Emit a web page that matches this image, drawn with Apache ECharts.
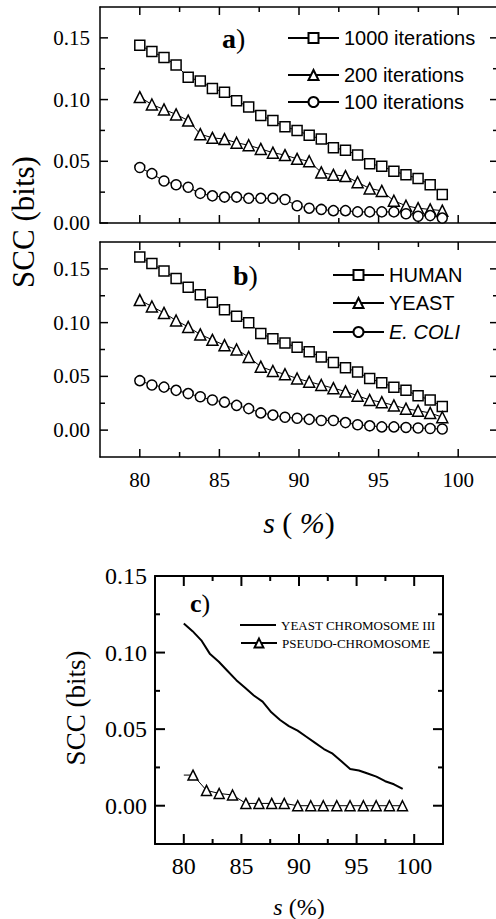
<!DOCTYPE html>
<html>
<head>
<meta charset="utf-8">
<script src="https://cdn.jsdelivr.net/npm/echarts@6/dist/echarts.min.js"></script>
<style>
  html, body { margin: 0; padding: 0; background: #fff; }
  #chart { width: 496px; height: 919px; }
</style>
</head>
<body>
<div id="chart"></div>
<script>
// s (%) positions shared by panels a, b and the line of panel c
const sValues = [80, 80.76, 81.52, 82.28, 83.04, 83.8, 84.56, 85.32, 86.08, 86.84, 87.6, 88.36, 89.12,
  89.88, 90.64, 91.4, 92.16, 92.92, 93.68, 94.44, 95.2, 95.96, 96.72, 97.48, 98.24, 99]

// panel a
const iter1000 = [0.144, 0.139, 0.134, 0.128, 0.118, 0.115, 0.109, 0.106, 0.099, 0.094, 0.087, 0.083, 0.078,
  0.075, 0.071, 0.068, 0.061, 0.059, 0.055, 0.048, 0.046, 0.042, 0.039, 0.036, 0.031, 0.023]
const iter200 = [0.102, 0.096, 0.092, 0.088, 0.083, 0.072, 0.069, 0.068, 0.065, 0.063, 0.060, 0.057, 0.055,
  0.052, 0.050, 0.041, 0.039, 0.038, 0.033, 0.028, 0.026, 0.018, 0.014, 0.012, 0.011, 0.010]
const iter100 = [0.045, 0.040, 0.034, 0.031, 0.029, 0.024, 0.022, 0.021, 0.021, 0.020, 0.020, 0.020, 0.019,
  0.014, 0.012, 0.011, 0.010, 0.010, 0.009, 0.009, 0.009, 0.009, 0.0075, 0.0055, 0.006, 0.004]

// panel b
const human = [0.161, 0.155, 0.148, 0.141, 0.133, 0.126, 0.119, 0.112, 0.106, 0.100, 0.090, 0.085, 0.081,
  0.077, 0.073, 0.068, 0.063, 0.058, 0.054, 0.048, 0.044, 0.040, 0.037, 0.032, 0.028, 0.022]
const yeast = [0.121, 0.115, 0.109, 0.102, 0.096, 0.089, 0.084, 0.079, 0.075, 0.068, 0.059, 0.055, 0.052,
  0.048, 0.045, 0.042, 0.039, 0.036, 0.032, 0.028, 0.026, 0.023, 0.020, 0.018, 0.016, 0.012]
const ecoli = [0.046, 0.042, 0.040, 0.037, 0.034, 0.031, 0.028, 0.026, 0.023, 0.020, 0.016, 0.014, 0.012,
  0.011, 0.010, 0.009, 0.009, 0.007, 0.005, 0.004, 0.003, 0.003, 0.0025, 0.002, 0.0015, 0.001]

// panel c
const yeastChr3 = [0.119, 0.114, 0.108, 0.099, 0.094, 0.088, 0.082, 0.077, 0.072, 0.068, 0.061, 0.056, 0.052,
  0.049, 0.045, 0.041, 0.037, 0.034, 0.029, 0.024, 0.023, 0.021, 0.019, 0.016, 0.014, 0.011]
const pseudoS = [80, 80.8, 81.97, 83.07, 84.23, 85.39, 86.52, 87.63, 88.72, 89.89, 91.02, 92.11, 93.28,
  94.43, 95.59, 96.7, 97.85, 98.98]
const pseudoVals = [0.020, 0.020, 0.010, 0.008, 0.007, 0.0015, 0.0015, 0.0015, 0.0015, 0, 0, 0, 0,
  0, 0, 0, 0, 0]

// ticks and labels
const xMajor = [80, 85, 90, 95, 100]
const xMinor = [82.5, 87.5, 92.5, 97.5]
const yMajor = [0, 0.05, 0.10, 0.15]
const yMinor = [0.025, 0.075, 0.125]

const serif = 'Liberation Serif, Times New Roman, serif'
const sans = 'Liberation Sans, Arial, sans-serif'

const chart = echarts.init(document.getElementById('chart'), null, { renderer: 'svg' })

const xMin = 77.5, xMax = 102.5
const panels = [
  { left: 100, top: 7, width: 398, height: 216, yMin: 0, yMax: 0.175, xLabels: false, fs: 21, lw: 1.5, major: 8, minor: 5, xMargin: 12, yMargin: 10 },
  { left: 100, top: 242, width: 398, height: 215, yMin: -0.025, yMax: 0.175, xLabels: true, fs: 21, lw: 1.5, major: 8, minor: 5, xMargin: 12, yMargin: 10 },
  { left: 155, top: 576, width: 288, height: 268, yMin: -0.025, yMax: 0.15, xLabels: true, fs: 24, lw: 2, major: 10, minor: 5, xMargin: 10, yMargin: 8 }
]

const grids = []
const xAxes = []
const yAxes = []

// per panel: bottom/top x axes and left/right y axes make the box, labels from the main ones
panels.forEach((p, i) => {
  grids.push({ left: p.left, top: p.top, width: p.width, height: p.height, outerBoundsMode: 'none' })
  const mk = (min, max, position, label) => ({
    type: 'value', gridIndex: i, min, max, position,
    splitLine: { show: false }, axisTick: { show: false },
    axisLine: { show: true, onZero: false, lineStyle: { color: '#000', width: p.lw } },
    axisLabel: label || { show: false }
  })
  xAxes.push(mk(xMin, xMax, 'bottom', { show: p.xLabels, customValues: xMajor, margin: p.xMargin,
    color: '#000', fontFamily: serif, fontSize: p.fs, formatter: v => String(v) }))
  xAxes.push(mk(xMin, xMax, 'top'))
  yAxes.push(mk(p.yMin, p.yMax, 'left', { show: true, customValues: yMajor, margin: p.yMargin,
    color: '#000', fontFamily: serif, fontSize: p.fs, formatter: v => v.toFixed(2) }))
  yAxes.push(mk(p.yMin, p.yMax, 'right'))
})

const pairs = (xs, ys) => xs.map((x, i) => [x, ys[i]])
const marked = (name, panel, data, symbol, size) => ({
  name, type: 'line', xAxisIndex: panel * 2, yAxisIndex: panel * 2, data,
  symbol, symbolSize: size, showSymbol: true, z: 5,
  lineStyle: { color: '#000', width: 1 },
  itemStyle: { color: '#fff', borderColor: '#000', borderWidth: 1.5 }
})

const pseudoData = pairs(pseudoS, pseudoVals)
pseudoData[0] = { value: pseudoData[0], symbol: 'none' }

const series = [
  marked('1000 iterations', 0, pairs(sValues, iter1000), 'rect', 10),
  marked('200 iterations', 0, pairs(sValues, iter200), 'triangle', 11),
  marked('100 iterations', 0, pairs(sValues, iter100), 'circle', 10),
  marked('HUMAN', 1, pairs(sValues, human), 'rect', 10),
  marked('YEAST', 1, pairs(sValues, yeast), 'triangle', 11),
  marked('E. COLI', 1, pairs(sValues, ecoli), 'circle', 10),
  {
    name: 'YEAST CHROMOSOME III', type: 'line', xAxisIndex: 4, yAxisIndex: 4,
    data: pairs(sValues, yeastChr3), symbol: 'none', z: 5,
    lineStyle: { color: '#000', width: 2 }, itemStyle: { color: '#000' }
  },
  marked('PSEUDO-CHROMOSOME', 2, pseudoData, 'triangle', 10)
]

// inward tick marks as short two-point lines in each panel's data space
panels.forEach((p, i) => {
  const kx = p.width / (xMax - xMin)
  const ky = p.height / (p.yMax - p.yMin)
  const seg = (a, b) => ({
    type: 'line', xAxisIndex: i * 2, yAxisIndex: i * 2, data: [a, b],
    symbol: 'none', silent: true, clip: false, z: 3,
    lineStyle: { color: '#000', width: p.lw }, emphasis: { disabled: true }, tooltip: { show: false }
  })
  const onX = (vals, len) => vals.forEach(v => {
    series.push(seg([v, p.yMin], [v, p.yMin + len / ky]))
    series.push(seg([v, p.yMax], [v, p.yMax - len / ky]))
  })
  const onY = (vals, len) => vals.forEach(v => {
    series.push(seg([xMin, v], [xMin + len / kx, v]))
    series.push(seg([xMax, v], [xMax - len / kx, v]))
  })
  onX(xMajor, p.major)
  onX(xMinor, p.minor)
  onY(yMajor, p.major)
  onY(yMinor, p.minor)
})

function legendItem(name, left, rowY, w, fs, family, italic, h, icon) {
  const l = {
    data: [name], left, top: rowY - fs / 2, orient: 'vertical', padding: 0,
    itemWidth: w, itemHeight: h, selectedMode: false,
    textStyle: { fontSize: fs, fontFamily: family, color: '#000', fontStyle: italic ? 'italic' : 'normal' }
  }
  if (icon) l.icon = icon
  return l
}

const legends = [
  legendItem('1000 iterations', 287, 38, 51, 20, sans, false, 12.5),
  legendItem('200 iterations', 287, 75, 51, 20, sans, false, 12.5),
  legendItem('100 iterations', 287, 102, 51, 20, sans, false, 12.5),
  legendItem('HUMAN', 332, 275, 51, 20, sans, false, 12.5),
  legendItem('YEAST', 332, 303, 51, 20, sans, false, 12.5),
  legendItem('E. COLI', 332, 332, 51, 20, sans, true, 12.5),
  legendItem('YEAST CHROMOSOME III', 240, 625, 36, 13, serif, false, 2, 'rect'),
  legendItem('PSEUDO-CHROMOSOME', 240, 643, 36, 13, serif, false, 11)
]

const txt = (x, y, text, fs, extra) => ({
  type: 'text', x, y, silent: true,
  style: Object.assign({ text, fontSize: fs, fontFamily: serif, fill: '#000', align: 'center', verticalAlign: 'middle' }, extra || {})
})
const bold = fs => ({ align: 'left', rich: { b: { fontWeight: 'bold', fontSize: fs, fontFamily: serif } } })
const ital = fs => ({ rich: { i: { fontStyle: 'italic', fontSize: fs, fontFamily: serif } } })

const texts = [
  Object.assign(txt(23, 222, 'SCC (bits)', 31), { rotation: Math.PI / 2 }),
  txt(299, 522, '{i|s} ( {i|%})', 30, ital(30)),
  txt(222, 38, '{b|a})', 28, bold(28)),
  txt(233, 275, '{b|b})', 28, bold(28)),
  txt(190, 603, '{b|c})', 26, bold(26)),
  Object.assign(txt(76, 708, 'SCC (bits)', 27), { rotation: Math.PI / 2 }),
  txt(299, 907, '{i|s} (%)', 24, ital(24))
]

chart.setOption({
  animation: false,
  grid: grids,
  xAxis: xAxes,
  yAxis: yAxes,
  legend: legends,
  graphic: texts,
  series: series
})
</script>
</body>
</html>
